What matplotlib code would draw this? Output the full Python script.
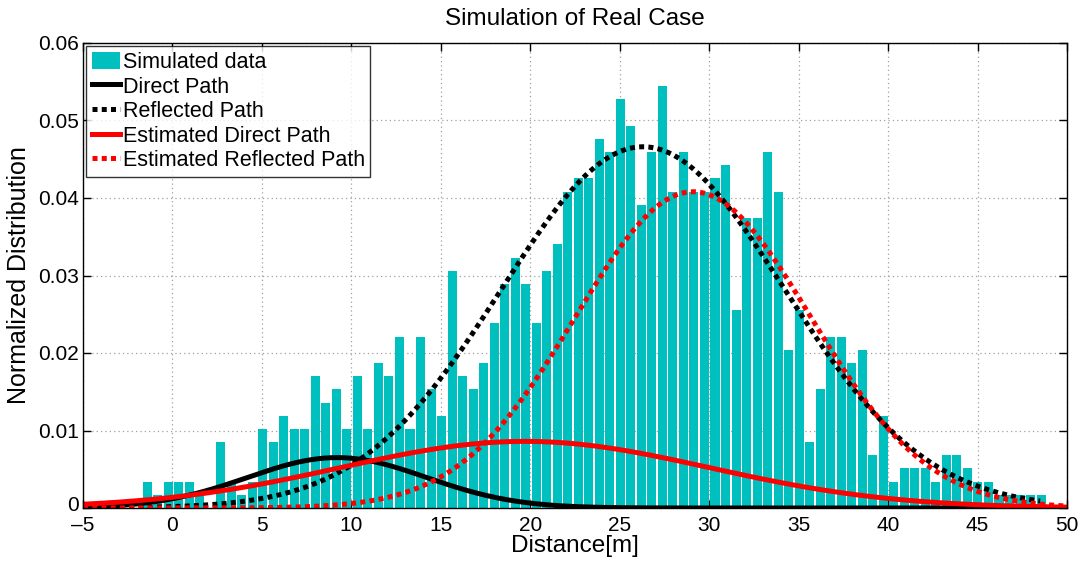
import numpy as np
import matplotlib
matplotlib.use("Agg")
import matplotlib.pyplot as plt
import matplotlib.transforms as mtransforms
from matplotlib.patches import Patch
from matplotlib.lines import Line2D

plt.rcParams['font.family'] = ['Liberation Sans', 'DejaVu Sans']

# Histogram of 1000 simulated distance samples (counts per bin)
n_samples = 1000
first_bin_center = -1.42
last_bin_center = 48.55
bin_counts = [
    2, 1, 2, 2, 2, 1, 0, 5, 2, 1,
    2, 6, 5, 7, 6, 6, 10, 8, 9, 6,
    10, 6, 11, 10, 13, 6, 13, 9, 7, 18,
    10, 9, 11, 14, 17, 19, 17, 14, 18, 20,
    24, 25, 25, 28, 27, 31, 29, 23, 27, 32,
    24, 27, 24, 24, 25, 26, 15, 22, 22, 27,
    24, 12, 15, 5, 9, 13, 13, 11, 12, 4,
    7, 2, 3, 3, 3, 2, 4, 4, 3, 2,
    2, 1, 1, 1, 1, 1,
]

# Gaussian path components: (mean [m], std [m], mixture weight)
direct_path = (9.2, 5.0, 0.0815)
reflected_path = (26.3, 7.9, 0.923)
est_direct_path = (19.7, 10.3, 0.222)
est_reflected_path = (29.1, 6.55, 0.670)

x_ticks = [-5, 0, 5, 10, 15, 20, 25, 30, 35, 40, 45, 50]
y_ticks = [0, 0.01, 0.02, 0.03, 0.04, 0.05, 0.06]

counts = np.array(bin_counts, dtype=float)
centers = np.linspace(first_bin_center, last_bin_center, len(counts))
bin_width = centers[1] - centers[0]
density = counts / (n_samples * bin_width)


def gauss(x, params):
    mu, sd, w = params
    return w * np.exp(-0.5 * ((x - mu) / sd) ** 2) / (sd * np.sqrt(2 * np.pi))


x_true = np.linspace(-5, 48.5, 600)
x_est = np.linspace(-5, 50, 600)

fig = plt.figure(figsize=(10.88, 5.63), dpi=100)
ax = fig.add_axes([83 / 1088, 55 / 563, 984 / 1088, 465 / 563])

cyan = '#00BFBF'
ax.bar(centers, density, width=0.86 * bin_width, color=cyan, linewidth=0, zorder=2)

lw = 3.6
dot = (0, (1.0, 0.85))
ax.plot(x_true, gauss(x_true, direct_path), color='black', lw=lw, zorder=3)
ax.plot(x_true, gauss(x_true, reflected_path), color='black', lw=lw, ls=dot,
        dash_capstyle='butt', zorder=3)
ax.plot(x_est, gauss(x_est, est_direct_path), color='red', lw=lw, zorder=4)
ax.plot(x_est, gauss(x_est, est_reflected_path), color='red', lw=lw, ls=dot,
        dash_capstyle='butt', zorder=4)

ax.set_xlim(-5, 50)
ax.set_ylim(0, 0.06)
ax.set_xticks(x_ticks)
ax.set_yticks(y_ticks)
ax.set_xticklabels([f"{t:g}".replace('-', '\u2013') for t in x_ticks])
ax.set_yticklabels([f"{t:g}" for t in y_ticks], va='center_baseline')
ax.grid(True, color='#a0a0a0', ls=(0, (1, 2.5)), lw=0.9, zorder=0)
ax.set_axisbelow(True)
ax.tick_params(direction='in', length=6, width=1, top=True, right=True,
               labelsize=15, pad=3)
ax.tick_params(axis='x', pad=5.5)
for s in ax.spines.values():
    s.set_linewidth(1.0)
    s.set_zorder(5)

# lift the y-axis "0" label slightly so it clears the corner x label
zero_label = ax.get_yticklabels()[0]
zero_label.set_transform(zero_label.get_transform() +
                         mtransforms.ScaledTranslation(0, 3 / 72, fig.dpi_scale_trans))

ax.set_title('Simulation of Real Case', fontsize=17.5, pad=13)
ax.set_xlabel('Distance[m]', fontsize=17.5, labelpad=0.5)
ax.set_ylabel('Normalized Distribution', fontsize=18, labelpad=5)

handles = [
    Patch(facecolor=cyan, edgecolor='none'),
    Line2D([], [], color='black', lw=lw),
    Line2D([], [], color='black', lw=lw, ls=dot, dash_capstyle='butt'),
    Line2D([], [], color='red', lw=lw),
    Line2D([], [], color='red', lw=lw, ls=dot, dash_capstyle='butt'),
]
labels = ['Simulated data', 'Direct Path', 'Reflected Path',
          'Estimated Direct Path', 'Estimated Reflected Path']
leg = ax.legend(handles, labels, loc='upper left', fontsize=15.5,
                frameon=True, fancybox=False, edgecolor='black',
                borderpad=0.25, labelspacing=0.15, handlelength=1.3,
                handleheight=0.9, handletextpad=0.15, borderaxespad=0.15)
leg.get_frame().set_linewidth(1.0)
leg.set_zorder(6)

fig.savefig('out.png', dpi=100)
